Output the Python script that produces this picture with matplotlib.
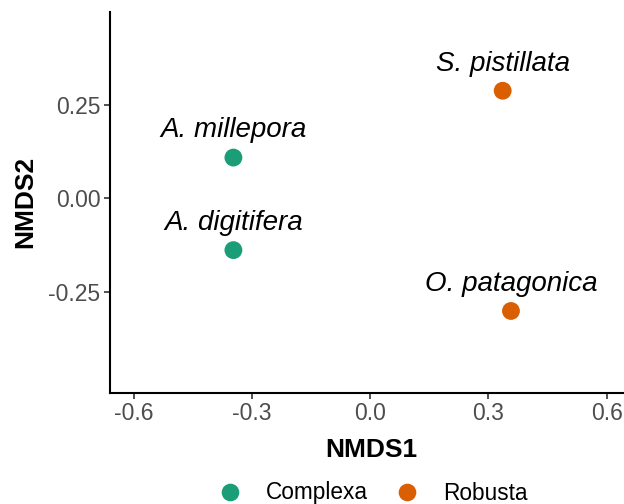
import matplotlib
matplotlib.use("Agg")
import matplotlib.pyplot as plt
from matplotlib.lines import Line2D

plt.rcParams["font.family"] = ["Liberation Sans", "DejaVu Sans"]

# NMDS scores
species = ["A. millepora", "A. digitifera", "S. pistillata", "O. patagonica"]
nmds1 = [-0.347, -0.347, 0.336, 0.357]
nmds2 = [0.109, -0.139, 0.288, -0.302]
clade = ["Complexa", "Complexa", "Robusta", "Robusta"]

clade_names = ["Complexa", "Robusta"]
clade_colors = {"Complexa": "#1B9E77", "Robusta": "#D95F02"}

xticks = [-0.6, -0.3, 0.0, 0.3, 0.6]
yticks = [-0.25, 0.0, 0.25]

fig = plt.figure(figsize=(6.24, 5.04), dpi=100)
# panel runs a little past the right edge of the picture, as in the reference
ax = fig.add_axes([110 / 624, 1 - 392.7 / 504, (632 - 110) / 624, (392.7 - 12) / 504])

cols = [clade_colors[c] for c in clade]
ax.scatter(nmds1, nmds2, c=cols, s=165, edgecolors="none", zorder=3, clip_on=False)

for name, x, y in zip(species, nmds1, nmds2):
    ax.annotate(name, (x, y), xytext=(0, 14.5), textcoords="offset points",
                ha="center", va="baseline", fontsize=20, style="italic", color="black")

ax.set_xlim(-0.66, 0.664)
ax.set_ylim(-0.521, 0.499)
ax.set_xticks(xticks)
ax.set_xticklabels([f"{v:.1f}" for v in xticks])
ax.set_yticks(yticks)
ax.set_yticklabels([f"{v:.2f}" for v in yticks])

for s in ["top", "right"]:
    ax.spines[s].set_visible(False)
for s in ["left", "bottom"]:
    ax.spines[s].set_linewidth(1.5)
    ax.spines[s].set_color("black")

ax.tick_params(axis="both", length=4, width=1.2, color="#333333",
               labelsize=16.5, labelcolor="#4D4D4D", pad=3)

ax.set_xlabel("NMDS1", fontsize=19, fontweight="bold", labelpad=9)
ax.set_ylabel("NMDS2", fontsize=19, fontweight="bold", labelpad=8)

handles = [Line2D([0], [0], marker="o", linestyle="none", markersize=12.7,
                  markerfacecolor=clade_colors[c], markeredgecolor="none", label=c)
           for c in clade_names]
fig.legend(handles=handles, loc="center", bbox_to_anchor=(373 / 624, 1 - 493 / 504),
           ncol=2, frameon=False, fontsize=16.3, handletextpad=1.1,
           columnspacing=1.2, handlelength=1.0, borderpad=0)

fig.savefig("out.png", dpi=100)
